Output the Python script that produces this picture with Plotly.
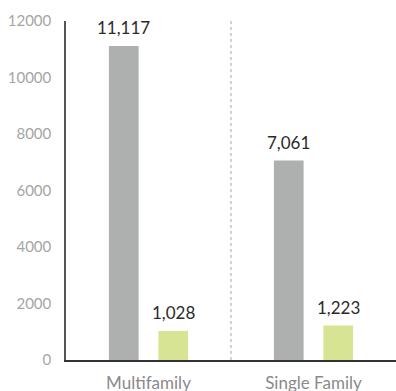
import plotly.graph_objects as go

categories = ["Multifamily", "Single Family"]
series_a = [11117, 7061]
series_b = [1028, 1223]
y_ticks = [0, 2000, 4000, 6000, 8000, 10000, 12000]

GRAY = "#adb0ae"
GREEN = "#d7e494"
FONT = "Lato"

fig = go.Figure()
fig.add_trace(go.Bar(x=categories, y=series_a, marker=dict(color=GRAY, line_width=0), hoverinfo="skip"))
fig.add_trace(go.Bar(x=categories, y=series_b, marker=dict(color=GREEN, line_width=0), hoverinfo="skip"))

for vals, shift in ((series_a, -25), (series_b, 25)):
    for c, v in zip(categories, vals):
        fig.add_annotation(x=c, y=v, text=f"{v:,}", showarrow=False, xshift=shift,
                           yshift=18, yanchor="middle",
                           font=dict(family=FONT, size=17, color="#2b2b2b"))

fig.add_shape(type="line", xref="x", yref="paper", x0=0.5, x1=0.5, y0=0, y1=1,
              line=dict(color="#b5b5b5", width=1.2, dash="dot"))

fig.update_layout(
    width=396, height=391,
    margin=dict(l=66, r=0, t=21, b=31, autoexpand=False),
    paper_bgcolor="white", plot_bgcolor="white",
    barmode="group", bargap=0.4, bargroupgap=0.4,
    showlegend=False,
    font=dict(family=FONT),
)
fig.update_xaxes(range=[-0.5, 1.5], showline=True, linecolor="#333333", linewidth=1.5,
                 ticks="", ticklabelstandoff=7, automargin=False,
                 tickfont=dict(family=FONT, size=17, color="#8a8a8a"), showgrid=False)
fig.update_yaxes(range=[0, 12000], tickvals=y_ticks, ticktext=[str(t) for t in y_ticks],
                 showline=True, linecolor="#555555", linewidth=1.5, showgrid=False,
                 zeroline=False, ticks="", ticklabelstandoff=10, automargin=False,
                 tickfont=dict(family=FONT, size=15, color="#a5a5a5"))

fig.write_html("out.html")
